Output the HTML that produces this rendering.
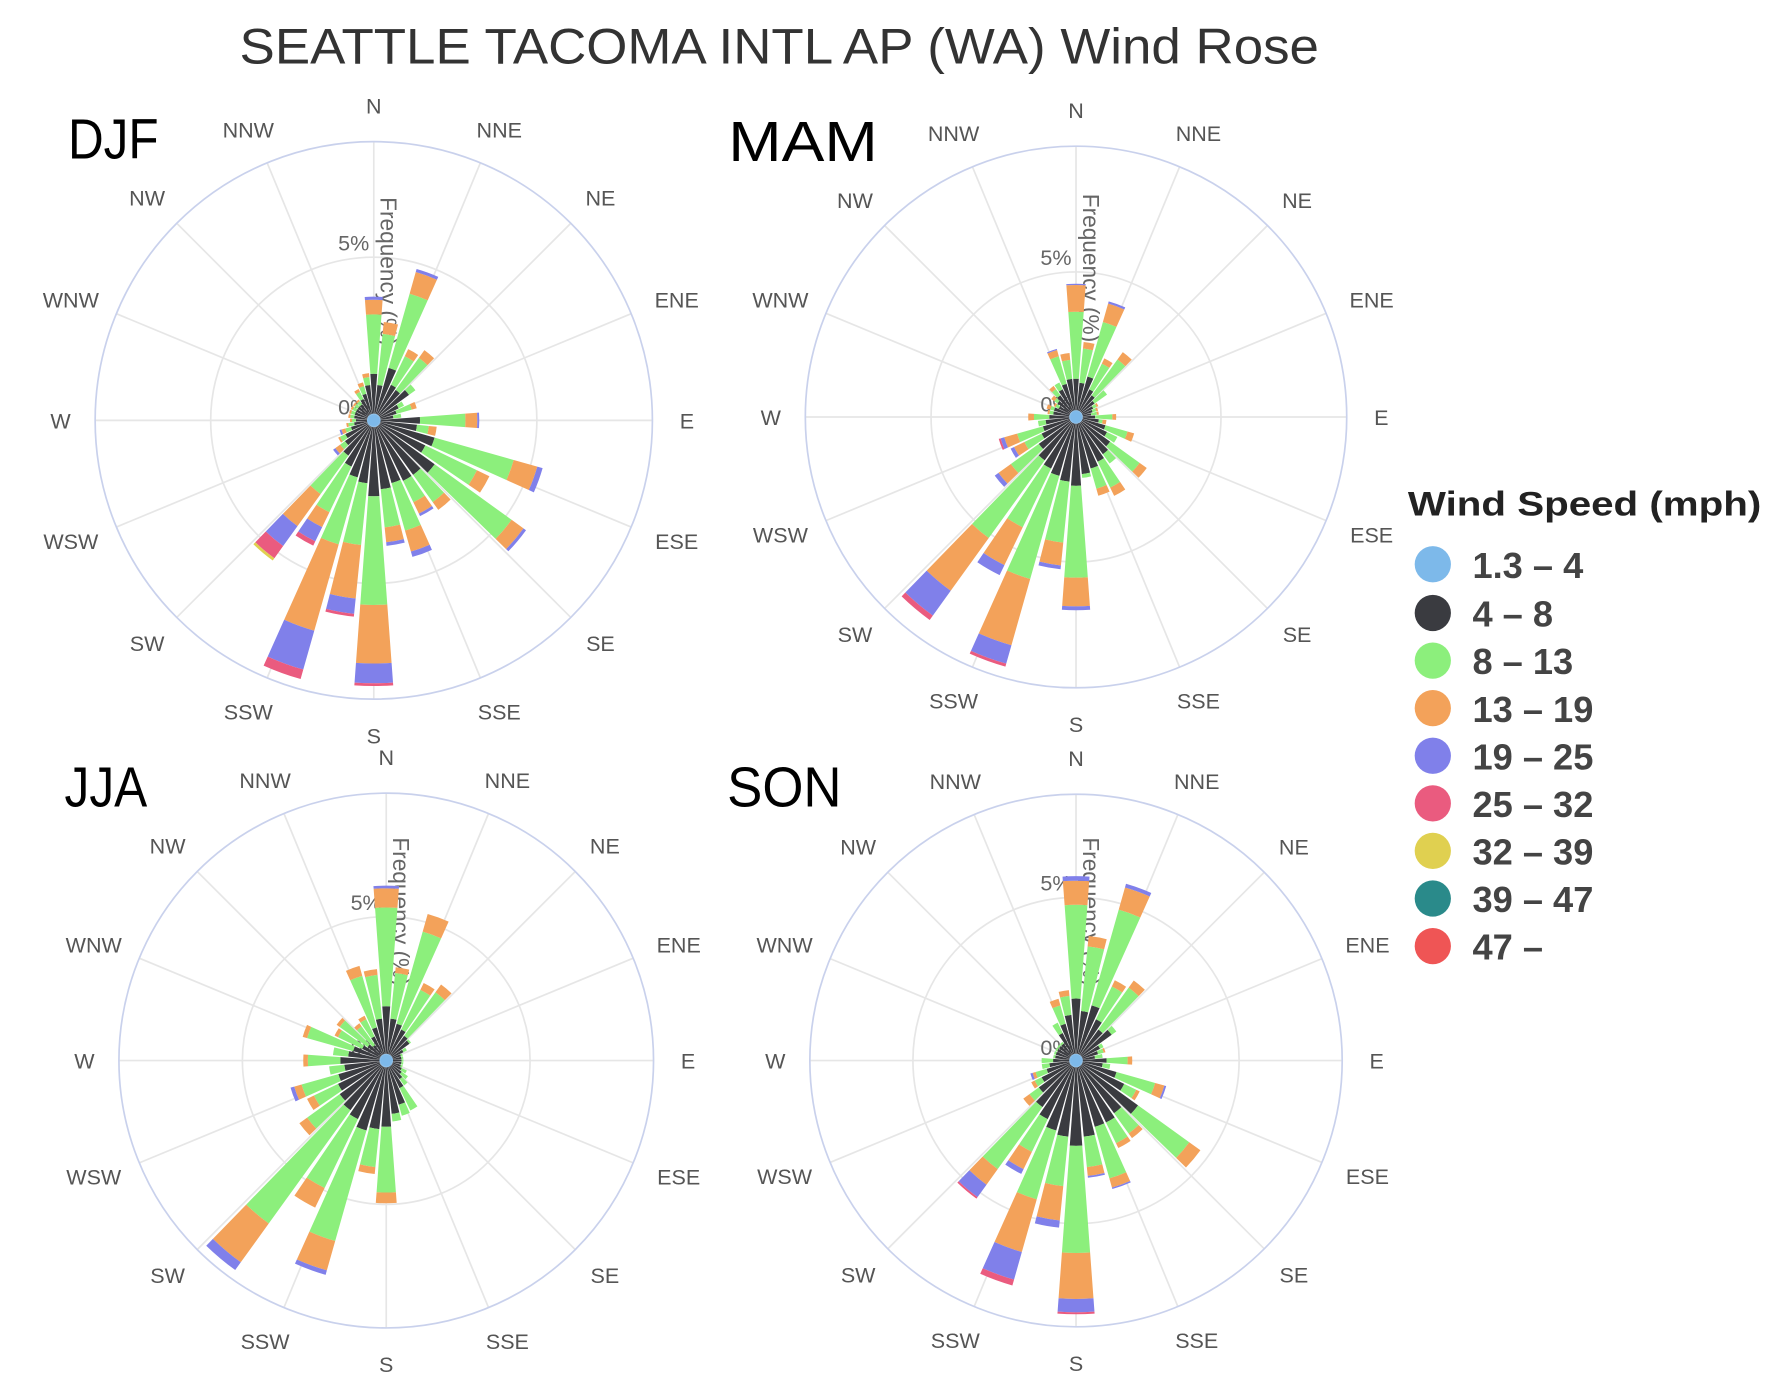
<!DOCTYPE html>
<html><head><meta charset="utf-8"><style>
html,body{margin:0;padding:0;background:#fff;}
svg{display:block;}
</style></head><body>
<svg id="s" xmlns="http://www.w3.org/2000/svg" width="1776" height="1388" viewBox="0 0 1568 1225" preserveAspectRatio="none" font-family="Liberation Sans, sans-serif">
<rect width="1568" height="1225" fill="#fff"/>
<text x="688" y="56" text-anchor="middle" font-size="44" fill="#333" textLength="953" lengthAdjust="spacingAndGlyphs">SEATTLE TACOMA INTL AP (WA) Wind Rose</text>
<g id="panels"></g>
<text x="60" y="140" font-size="50" fill="#000" textLength="80" lengthAdjust="spacingAndGlyphs">DJF</text>
<text x="643" y="142" font-size="50" fill="#000" textLength="132" lengthAdjust="spacingAndGlyphs">MAM</text>
<text x="57" y="712" font-size="50" fill="#000" textLength="73" lengthAdjust="spacingAndGlyphs">JJA</text>
<text x="642" y="712" font-size="50" fill="#000" textLength="101" lengthAdjust="spacingAndGlyphs">SON</text>
<g font-weight="bold" fill="#444">
<text x="1243" y="455" font-size="30" fill="#222" textLength="312" lengthAdjust="spacingAndGlyphs">Wind Speed (mph)</text>
<circle cx="1265" cy="498" r="16" fill="#7db9ea"/><text x="1300" y="510" font-size="32">1.3 – 4</text>
<circle cx="1265" cy="541" r="16" fill="#3a3b40"/><text x="1300" y="553" font-size="32">4 – 8</text>
<circle cx="1265" cy="583" r="16" fill="#8cef7c"/><text x="1300" y="595" font-size="32">8 – 13</text>
<circle cx="1265" cy="625" r="16" fill="#f3a25a"/><text x="1300" y="637" font-size="32">13 – 19</text>
<circle cx="1265" cy="667" r="16" fill="#8080ea"/><text x="1300" y="679" font-size="32">19 – 25</text>
<circle cx="1265" cy="709" r="16" fill="#ea5b7f"/><text x="1300" y="721" font-size="32">25 – 32</text>
<circle cx="1265" cy="751" r="16" fill="#e0d050"/><text x="1300" y="763" font-size="32">32 – 39</text>
<circle cx="1265" cy="793" r="16" fill="#2a8a8a"/><text x="1300" y="805" font-size="32">39 – 47</text>
<circle cx="1265" cy="835" r="16" fill="#ef5555"/><text x="1300" y="847" font-size="32">47 –</text>
</g>
</svg>
<script>
var NS="http://www.w3.org/2000/svg";
var COLORS=["#3a3b40","#8cef7c","#f3a25a","#8080ea","#ea5b7f","#e0d050"];
var DIRS=["N","NNE","NE","ENE","E","ESE","SE","SSE","S","SSW","SW","WSW","W","WNW","NW","NNW"];
var panels=[
{cx:330,cy:371,R:246,r5:144,sc:2.866,d:{0:[118,268,305,313],10:[90,220,250],20:[138,333,390,398],30:[100,180,200],40:[95,195,219],50:[110,130],60:[70,85],70:[60,100,113],80:[50,70],90:[117,232,262,267],100:[110,140,160],110:[160,368,430,444],120:[145,290,325],130:[190,430,467,475],140:[170,255,279],150:[170,230,262,269],160:[165,290,345,359],170:[175,272,310,319],180:[192,467,615,665,672],190:[160,317,453,492,499],200:[150,326,553,655,680],210:[130,258,300,340,352],220:[110,230,330,392,430,437],230:[90,105,120,127],240:[80,95,100],250:[60,75,85,90],260:[50,65,70],270:[45,55,60],280:[50,60,65],290:[50,60,65],300:[50,60,65],310:[50,60,65],320:[50,60,65],330:[60,80,88],340:[70,90,100],350:[90,110,120]}},
{cx:950,cy:368,R:239,r5:128,sc:2.961,d:{0:[100,275,345,348],10:[90,180,197],20:[110,258,308,314],30:[80,155,170],40:[70,185,209],50:[60,100],60:[50,60,65],70:[45,55,60],80:[40,55,60],90:[50,95,105],100:[60,70,80],110:[80,140,158],120:[90,120],130:[110,205,228],140:[120,150],150:[130,205,229],160:[140,195,214],170:[150,160],180:[180,420,495,505],190:[170,330,390,400],200:[160,440,620,670,678],210:[150,320,430,459],220:[140,390,560,640,654],230:[120,210,250,262],240:[100,150,180,190],250:[90,160,195,205,210],260:[80,100],270:[70,110,125],280:[60,70,75],290:[60,70,80],300:[50,60,65],310:[60,70,80],320:[70,90,100],330:[80,100],340:[90,165,182,185],350:[100,150,168]}},
{cx:341,cy:936,R:236,r5:127,sc:2.961,d:{0:[142,400,450,457],10:[110,230,245],20:[100,350,398],30:[90,205,225],40:[80,220,245],50:[75,80],60:[50,60],70:[40,45],80:[40,45],90:[40,45],100:[40,45],110:[40,45],120:[45,60],130:[50,70],140:[60,80],150:[80,145],160:[120,150],170:[140,160],180:[173,345,373],190:[180,280,298],200:[190,490,570,582],210:[170,370,427],220:[160,525,650,675],230:[150,255,280],240:[140,210,230],250:[130,230,250,260],260:[110,150],270:[120,205,217],280:[100,140],290:[90,215,227],300:[70,140,150],310:[60,150,160],320:[50,110,120],330:[70,120,130],340:[90,230,257],350:[110,225,240]}},
{cx:950,cy:936,R:235,r5:144,sc:2.961,d:{0:[162,407,470,482],10:[130,300,327],20:[150,410,470,480],30:[120,215,233],40:[100,235,258],50:[115,130],60:[70,80],70:[60,75,80],80:[50,70],90:[80,135,147],100:[70,90],110:[110,215,240,245],120:[140,175,185],130:[200,365,401],140:[170,235,250],150:[180,240,254],160:[180,320,345,349],170:[200,280,303,308],180:[223,503,623,658,663],190:[200,330,420,439],200:[190,377,520,595,611],210:[170,265,315,329],220:[150,350,400,440,445],230:[120,150,170],240:[100,120,130],250:[80,110,118,124],260:[70,90],270:[60,90],280:[55,60],290:[55,60],300:[55,60],310:[55,60],320:[55,60],330:[80,110],340:[100,150,168],350:[120,170,185]}}
];
var g=document.getElementById("panels");
function el(t,a,txt){var e=document.createElementNS(NS,t);for(var k in a)e.setAttribute(k,a[k]);if(txt!=null)e.textContent=txt;g.appendChild(e);return e;}
function pt(cx,cy,r,deg){var t=deg*Math.PI/180;return [cx+r*Math.sin(t),cy-r*Math.cos(t)];}
function sector(cx,cy,r0,r1,d,w){var a=d-w/2,b=d+w/2;var p1=pt(cx,cy,r0,a),p2=pt(cx,cy,r1,a),p3=pt(cx,cy,r1,b),p4=pt(cx,cy,r0,b);
return "M"+p1[0].toFixed(2)+","+p1[1].toFixed(2)+"L"+p2[0].toFixed(2)+","+p2[1].toFixed(2)+"A"+r1+","+r1+" 0 0 1 "+p3[0].toFixed(2)+","+p3[1].toFixed(2)+"L"+p4[0].toFixed(2)+","+p4[1].toFixed(2)+(r0>0?"A"+r0+","+r0+" 0 0 0 "+p1[0].toFixed(2)+","+p1[1].toFixed(2):"")+"Z";}
panels.forEach(function(P){
  var cx=P.cx,cy=P.cy;
  for(var i=0;i<16;i++){var p=pt(cx,cy,P.R,i*22.5);el("line",{x1:cx,y1:cy,x2:p[0],y2:p[1],stroke:"#e6e6e6","stroke-width":1.5});}
  el("circle",{cx:cx,cy:cy,r:P.r5,fill:"none",stroke:"#e6e6e6","stroke-width":1.5});
  el("circle",{cx:cx,cy:cy,r:P.R,fill:"none",stroke:"#c9d1ec","stroke-width":1.5});
  for(var i=0;i<16;i++){
    var t=i*22.5*Math.PI/180,s=Math.sin(t),c=Math.cos(t);
    var hw=DIRS[i].length*6.5;
    var rr=P.R+24;
    var x=cx+rr*s+s*hw, y=cy-rr*c-c*8+7;
    el("text",{x:x,y:y,"text-anchor":"middle","font-size":19,fill:"#555"},DIRS[i]);}
  el("text",{x:cx-4,y:cy-P.r5-6,"text-anchor":"end","font-size":19,fill:"#666"},"5%");
  el("text",{x:cx-4,y:cy-5,"text-anchor":"end","font-size":19,fill:"#666"},"0%");
  el("text",{x:cx+6,y:cy-197,"font-size":20,fill:"#666",transform:"rotate(90 "+(cx+6)+" "+(cy-197)+")"},"Frequency (%)");
  var blue=6;
  for(var d=0;d<360;d+=10){
    var arr=P.d[d];if(!arr)continue;var prev=blue;
    el("path",{d:sector(cx,cy,0,blue,d,9),fill:"#7db9ea"});
    for(var k=0;k<arr.length;k++){var r=arr[k]/P.sc;if(r<=prev)continue;
      el("path",{d:sector(cx,cy,prev,r,d,8.4),fill:COLORS[k]});prev=r;}
  }
  el("circle",{cx:cx,cy:cy,r:5,fill:"#7db9ea"});
});
</script>
</body></html>
